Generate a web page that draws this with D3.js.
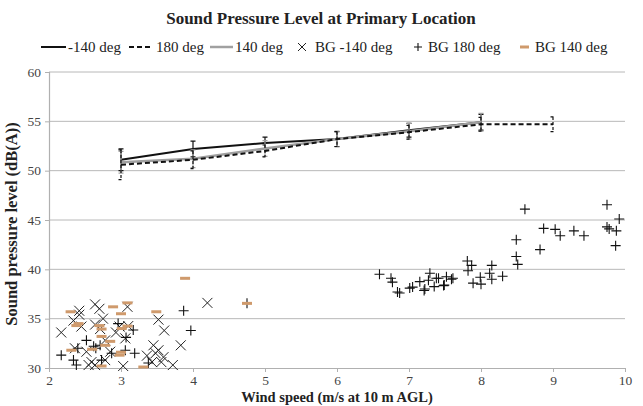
<!DOCTYPE html>
<html><head><meta charset="utf-8">
<script src="https://cdn.jsdelivr.net/npm/d3@7"></script>
<style>body{margin:0;background:#fff;} text{font-family:"Liberation Serif","Times New Roman",serif;}</style>
</head><body><svg id="c" width="643" height="406"></svg>
<script>
const xTicks = [2,3,4,5,6,7,8,9,10];
const yTicks = [30,35,40,45,50,55,60];
const legendLabels = ["-140 deg","180 deg","140 deg","BG -140 deg","BG 180 deg","BG 140 deg"];
const windM140 = [3,4,5,6,7,8];
const splM140 = [51.1,52.2,52.8,53.2,54.1,54.9];
const errM140 = [1.1,0.8,0.6,0.75,0.7,0.8];
const wind180 = [3,4,5,6,7,8,9];
const spl180 = [50.6,51.1,52.0,53.2,53.9,54.7,54.7];
const err180 = [1.5,0.9,0.6,0.75,0.7,0.7,0.75];
const wind140 = [3,4,5,6,7,8];
const spl140 = [50.85,51.2,52.25,53.2,54.0,54.9];
const err140 = [1.1,0.9,0.8,0.8,0.8,0.9];
const bgM140 = [[2.42,35.8],[2.64,36.45],[3.09,36.2],[4.20,36.6],[2.42,35.4],[2.34,34.8],[2.75,35.0],[3.52,34.9],[2.64,34.4],[2.98,34.2],[3.10,34.25],[2.17,33.6],[2.71,33.95],[2.93,33.6],[3.60,33.8],[3.06,33.0],[2.78,32.8],[3.45,32.3],[3.83,32.3],[3.52,31.8],[3.59,31.1],[3.36,31.25],[3.43,30.6],[3.56,30.6],[3.72,30.3],[3.03,30.2],[2.59,30.6],[2.64,30.3],[2.36,32.0],[2.52,31.65],[2.78,30.8],[2.85,31.65],[2.45,34.2],[2.70,36.0],[2.55,30.3],[3.48,31.5]];
const bg180 = [[2.17,31.3],[2.34,30.8],[2.38,30.3],[2.52,32.8],[2.62,32.2],[2.71,32.3],[2.87,31.5],[3.19,31.5],[3.06,31.8],[2.96,34.5],[3.17,33.85],[3.07,33.1],[2.73,30.8],[3.38,30.5],[3.87,35.8],[3.97,33.8],[4.75,36.55],[2.65,32.0],[2.40,32.0],
[6.59,39.5],[6.75,39.1],[6.77,38.7],[6.84,37.7],[6.87,37.6],[7.01,38.1],[7.05,38.2],[7.15,38.75],[7.22,38.0],[7.21,37.85],[7.27,38.9],[7.29,39.6],[7.35,38.25],[7.38,39.1],[7.41,39.1],[7.48,38.35],[7.49,38.4],[7.52,39.25],[7.61,39.1],[7.59,39.0],
[7.81,40.85],[7.87,40.4],[7.82,39.85],[7.89,38.6],[8.0,38.5],[7.99,39.2],[8.15,40.4],[8.12,39.6],[8.15,39.0],[8.30,39.3],[8.49,43.0],[8.49,41.3],[8.51,40.5],[8.61,46.1],[8.82,42.0],[8.87,44.15],[9.03,44.05],[9.10,43.4],[9.29,43.9],[9.43,43.4],[9.75,46.55],[9.75,44.3],[9.78,44.1],[9.88,43.9],[9.87,42.4],[9.92,45.1]];
const bg140 = [[3.89,39.09],[4.75,36.55],[3.09,36.6],[2.89,36.2],[3.0,35.5],[2.30,35.7],[3.49,35.7],[2.41,34.5],[2.38,34.3],[2.73,33.95],[3.09,34.25],[3.01,34.0],[2.73,33.2],[2.85,32.7],[2.78,32.3],[2.31,31.8],[3.0,31.6],[2.98,31.3],[2.73,30.2],[3.31,30.1],[2.60,31.9],[2.70,34.3]];

const svg = d3.select("#c");
const x = d3.scaleLinear().domain([2,10]).range([49,625]);
const y = d3.scaleLinear().domain([30,60]).range([368,72]);
const orange = "#cf9a6c";

svg.append("text").attr("x",321).attr("y",24).attr("text-anchor","middle")
  .attr("font-size",17).attr("font-weight","bold").attr("fill","#222").text("Sound Pressure Level at Primary Location");

// gridlines
svg.append("g").selectAll("line").data(yTicks.slice(1)).join("line")
  .attr("x1",49).attr("x2",625).attr("y1",d=>y(d)).attr("y2",d=>y(d))
  .attr("stroke","#b8b8b8").attr("stroke-width",1);

const yAxis = svg.append("g").attr("transform","translate(49,0)")
  .call(d3.axisLeft(y).tickValues(yTicks).tickSize(4).tickPadding(4));
const xAxis = svg.append("g").attr("transform","translate(0,368)")
  .call(d3.axisBottom(x).tickValues(xTicks).tickSize(4).tickPadding(3));
[yAxis,xAxis].forEach(a=>{
  a.select(".domain").attr("stroke","#b0b0b0").attr("stroke-width",1.2);
  a.selectAll(".tick line").attr("stroke","#b0b0b0");
  a.selectAll("text").attr("font-size",13.5).attr("fill","#444").attr("font-family","Liberation Serif, serif");
});
xAxis.select(".domain").attr("d","M49,0.5H625");

svg.append("text").attr("x",337).attr("y",402).attr("text-anchor","middle")
  .attr("font-size",14.5).attr("font-weight","bold").attr("fill","#222").text("Wind speed (m/s at 10 m AGL)");
svg.append("text").attr("transform","translate(17,224) rotate(-90)").attr("text-anchor","middle")
  .attr("font-size",16.5).attr("font-weight","bold").attr("fill","#222").text("Sound pressure level (dB(A))");

// scatter markers
const gX = svg.append("g");
bgM140.forEach(([a,b])=>{
  const cx=x(a), cy=y(b), r=5;
  gX.append("path").attr("d",`M${cx-r},${cy-r}L${cx+r},${cy+r}M${cx-r},${cy+r}L${cx+r},${cy-r}`)
    .attr("stroke","#222").attr("stroke-width",1).attr("fill","none");
});
const gP = svg.append("g");
bg180.forEach(([a,b])=>{
  const cx=x(a), cy=y(b), r=5;
  gP.append("path").attr("d",`M${cx-r},${cy}H${cx+r}M${cx},${cy-r}V${cy+r}`)
    .attr("stroke","#111").attr("stroke-width",1.1).attr("fill","none");
});
svg.append("g").selectAll("rect").data(bg140).join("rect")
  .attr("x",d=>x(d[0])-5).attr("y",d=>y(d[1])-1.5).attr("width",10).attr("height",3).attr("fill",orange);

// lines + error bars
function series(ws, vs, es, color, width, dash){
  const pts = ws.map((w,i)=>[w,vs[i],es[i]]);
  const g = svg.append("g");
  pts.forEach(([w,v,e])=>{
    const cx=x(w);
    g.append("path").attr("d",`M${cx},${y(v+e)}V${y(v-e)}M${cx-2.5},${y(v+e)}H${cx+2.5}M${cx-2.5},${y(v-e)}H${cx+2.5}`)
      .attr("stroke",color).attr("stroke-width",1.2).attr("fill","none").attr("stroke-dasharray",dash?"3,2":null);
  });
  g.append("path").datum(pts).attr("d",d3.line().x(d=>x(d[0])).y(d=>y(d[1])))
    .attr("stroke",color).attr("stroke-width",width).attr("fill","none").attr("stroke-dasharray",dash?"5,3":null);
}
series(windM140, splM140, errM140, "#111", 2, false);
series(wind140, spl140, err140, "#a0a0a0", 2.5, false);
series(wind180, spl180, err180, "#111", 2, true);

// legend
const ly = 47;
const lg = svg.append("g");
lg.append("line").attr("x1",41).attr("x2",66).attr("y1",ly).attr("y2",ly).attr("stroke","#111").attr("stroke-width",2);
lg.append("line").attr("x1",129).attr("x2",153).attr("y1",ly).attr("y2",ly).attr("stroke","#111").attr("stroke-width",2).attr("stroke-dasharray","5,3");
lg.append("line").attr("x1",210).attr("x2",233).attr("y1",ly).attr("y2",ly).attr("stroke","#a0a0a0").attr("stroke-width",2.5);
lg.append("path").attr("d",`M${298},${ly-4}L${306},${ly+4}M${298},${ly+4}L${306},${ly-4}`).attr("stroke","#222").attr("stroke-width",1);
lg.append("path").attr("d",`M${414},${ly}H${422}M${418},${ly-4}V${ly+4}`).attr("stroke","#111").attr("stroke-width",1.1);
lg.append("rect").attr("x",520).attr("y",ly-1.5).attr("width",9).attr("height",3).attr("fill",orange);
const lx = [68,156,235,315,428,535];
lg.selectAll("text").data(legendLabels).join("text").attr("x",(d,i)=>lx[i]).attr("y",ly+5)
  .attr("font-size",15).attr("fill","#222").text(d=>d);
</script></body></html>
